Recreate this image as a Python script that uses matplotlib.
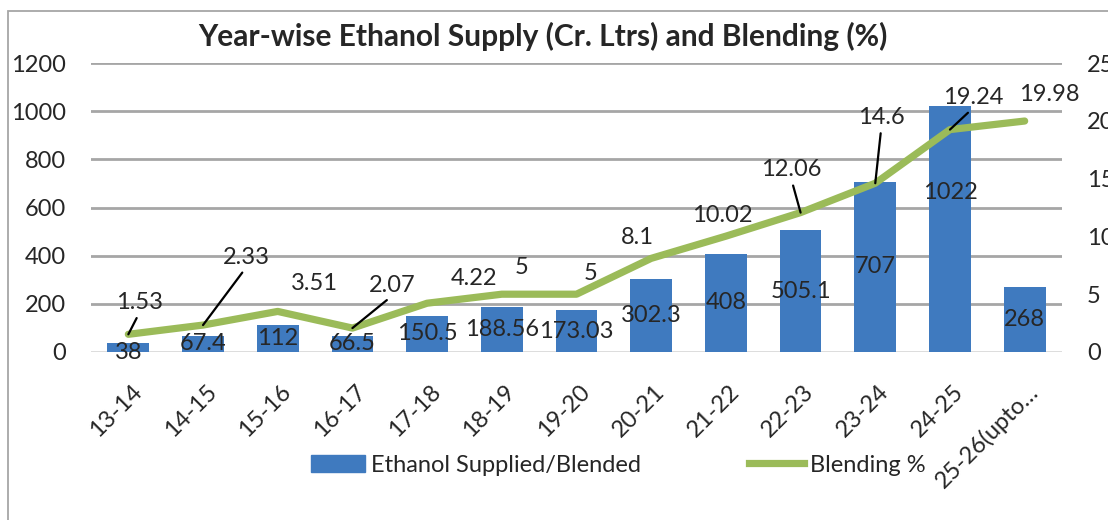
import matplotlib
matplotlib.use('Agg')
import matplotlib.pyplot as plt
import matplotlib.transforms as mtransforms
from matplotlib.patches import Rectangle, Patch
from matplotlib.lines import Line2D

plt.rcParams['font.family'] = ['Lato', 'DejaVu Sans']

years = ['13-14', '14-15', '15-16', '16-17', '17-18', '18-19', '19-20',
         '20-21', '21-22', '22-23', '23-24', '24-25', '25-26(upto\u2026']
ethanol = [38, 67.4, 112, 66.5, 150.5, 188.56, 173.03, 302.3, 408, 505.1, 707, 1022, 268]
blending = [1.53, 2.33, 3.51, 2.07, 4.22, 5, 5, 8.1, 10.02, 12.06, 14.6, 19.24, 19.98]

# where the % labels sit, in pixels from their point, and whether a leader is drawn
pct_label_pos = [(11, 32, True), (43, 68, True), (37, 28, False), (40, 43, True),
                 (47, 25, False), (20, 27, False), (14, 21, False), (-14, 21, False),
                 (-4, 21, False), (-9, 43, True), (6, 66, True), (23, 32, True),
                 (25, 27, False)]
# bar labels sit at the bar middle, a couple nudged (pixels, up is positive)
bar_label_nudge = {0: -5, 11: 36}

BLUE = '#3f7abf'
GREEN = '#9bbb59'
TXT = '#262626'
FS = 17

fig = plt.figure(figsize=(11.08, 5.2), dpi=100)
ax = fig.add_axes([91 / 1108, 1 - 352 / 520, (1062 - 91) / 1108, (352 - 63) / 520])
ax2 = ax.twinx()

x = list(range(len(years)))
ax.bar(x, ethanol, width=0.56, color=BLUE, zorder=2)
ax.set_xlim(-0.5, len(years) - 0.5)
ax.set_ylim(0, 1200)
ax.set_yticks(range(0, 1201, 200))
ax.set_axisbelow(True)
ax.yaxis.grid(True, color='#a6a6a6', linewidth=2)
ax.get_ygridlines()[0].set_color('#d9d9d9')

for i, v in enumerate(ethanol):
    ax.annotate(f'{v:g}', (i, v / 2), xytext=(0, bar_label_nudge.get(i, 0)),
                textcoords='offset pixels', ha='center', va='center',
                fontsize=FS, color=TXT, zorder=5)

ax2.plot(x, blending, color=GREEN, linewidth=5.2, solid_capstyle='round',
         solid_joinstyle='round', zorder=3)
ax2.set_ylim(0, 25)
ax2.set_yticks(range(0, 26, 5))

for i, v in enumerate(blending):
    dx, dy, leader = pct_label_pos[i]
    props = None
    if leader:
        props = dict(arrowstyle='-', color='black', linewidth=1.6,
                     relpos=(0.5, 0.0), shrinkA=2, shrinkB=0)
    ax2.annotate(f'{v:g}', (i, v), xytext=(dx, dy), textcoords='offset pixels',
                 ha='center', va='center', fontsize=FS, color=TXT,
                 arrowprops=props)

for a in (ax, ax2):
    for s in a.spines.values():
        s.set_visible(False)
    a.tick_params(length=0, labelsize=FS, labelcolor=TXT)
ax.tick_params(axis='y', pad=18)
ax2.tick_params(axis='y', pad=18)

ax.set_xticks(x)
ax.set_xticklabels(years, rotation=45, ha='right', va='center', rotation_mode='anchor')
ax.tick_params(axis='x', pad=26)
shift = mtransforms.ScaledTranslation(10 / 100, 0, fig.dpi_scale_trans)
for lab in ax.get_xticklabels():
    lab.set_transform(lab.get_transform() + shift)

fig.text(543 / 1108, 1 - 36 / 520, 'Year-wise Ethanol Supply (Cr. Ltrs) and Blending (%)',
         ha='center', va='center', fontsize=21.5, fontweight='bold', color=TXT)

handles = [Patch(color=BLUE), Line2D([], [], color=GREEN, linewidth=5.2)]
fig.legend(handles, ['Ethanol Supplied/Blended', 'Blending %'], ncol=2,
           loc='center', bbox_to_anchor=(618 / 1108, 1 - 465 / 520),
           frameon=False, fontsize=FS, handlelength=2.3, handletextpad=0.25,
           columnspacing=4.6, labelcolor=TXT)

fig.patches.append(Rectangle((8 / 1108, -0.2), 1.2, 1.2 - 11 / 520,
                             transform=fig.transFigure, fill=False,
                             edgecolor='#a6a6a6', linewidth=1.3))

fig.savefig('out.png', dpi=100)
